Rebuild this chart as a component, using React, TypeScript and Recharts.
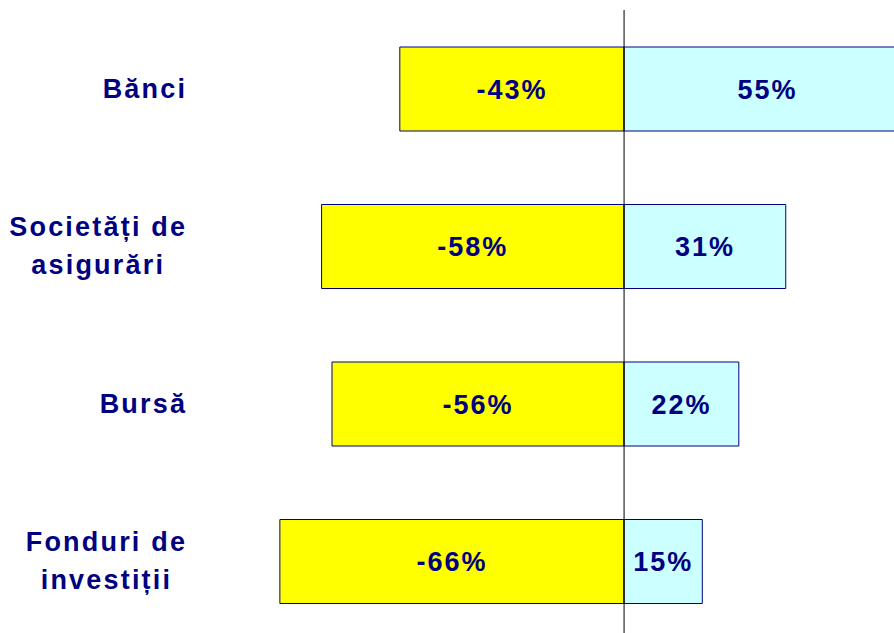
import React from "react";
import { BarChart, Bar, XAxis, YAxis, ReferenceLine, LabelList } from "recharts";

const categories = ["Bănci", "Societăți de\nasigurări", "Bursă", "Fonduri de\ninvestiții"];
const negativeValues = [-43, -58, -56, -66];
const positiveValues = [55, 31, 22, 15];

const data = categories.map((name, i) => ({
  name,
  neg: negativeValues[i],
  pos: positiveValues[i],
}));

const NAVY = "#000080";
const FONT = "'Liberation Sans', Arial, Helvetica, sans-serif";
const FS = 27;
const LS_AXIS = 2.2;
const LS_LABEL = 2;

function measure(text: string): number {
  try {
    const c = document.createElement("canvas");
    const ctx = c.getContext("2d")!;
    ctx.font = `bold ${FS}px 'Liberation Sans', Arial, sans-serif`;
    return ctx.measureText(text).width + LS_AXIS * (text.length - 1);
  } catch (e) {
    return text.length * FS * 0.6;
  }
}

const Tick = (props: any) => {
  const { y, payload } = props;
  const lines: string[] = String(payload.value).split("\n");
  const maxW = Math.max(...lines.map(measure));
  const cx = 185 - maxW / 2;
  const gap = 38;
  const start = -((lines.length - 1) * gap) / 2;
  return (
    <g>
      {lines.map((l, i) => (
        <text
          key={i}
          x={cx + LS_AXIS / 2}
          y={y + start + i * gap}
          textAnchor="middle"
          dominantBaseline="central"
          fill={NAVY}
          fontFamily={FONT}
          fontWeight="bold"
          fontSize={FS}
          letterSpacing={LS_AXIS}
        >
          {l}
        </text>
      ))}
    </g>
  );
};

const fmt = (v: any) => `${v}%`;

export default function App() {
  return (
    <div style={{ position: "absolute", left: 0, top: 0, width: 894, height: 633, overflow: "hidden", background: "#fff" }}>
      <BarChart
        width={937}
        height={640}
        data={data}
        layout="vertical"
        stackOffset="sign"
        margin={{ top: 10, right: 0, bottom: 0, left: 0 }}
        barSize={84}
      >
        <XAxis type="number" domain={[-70, 60]} hide />
        <YAxis
          type="category"
          dataKey="name"
          width={259}
          axisLine={false}
          tickLine={false}
          tick={<Tick />}
          interval={0}
        />
        <Bar dataKey="neg" stackId="a" fill="#FFFF00" stroke={NAVY} strokeWidth={1} isAnimationActive={false}>
          <LabelList
            dataKey="neg"
            position="center"
            formatter={fmt}
            fill={NAVY}
            fontFamily={FONT}
            fontWeight="bold"
            fontSize={FS}
            letterSpacing={LS_LABEL}
          />
        </Bar>
        <Bar dataKey="pos" stackId="a" fill="#CCFFFF" stroke={NAVY} strokeWidth={1} isAnimationActive={false}>
          <LabelList
            dataKey="pos"
            position="center"
            formatter={fmt}
            fill={NAVY}
            fontFamily={FONT}
            fontWeight="bold"
            fontSize={FS}
            letterSpacing={LS_LABEL}
          />
        </Bar>
        <ReferenceLine x={0} stroke="#000" strokeWidth={1} />
      </BarChart>
    </div>
  );
}
